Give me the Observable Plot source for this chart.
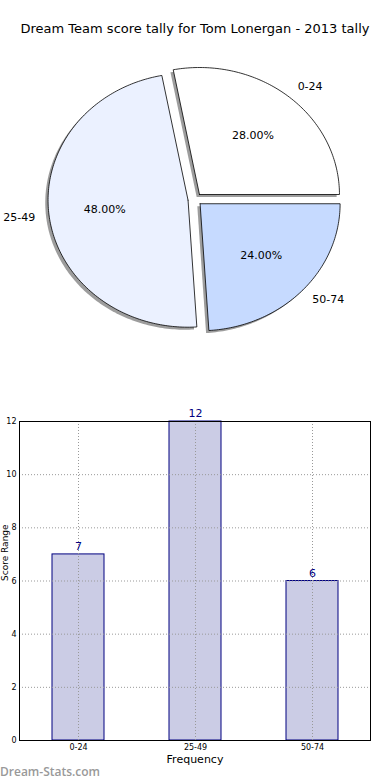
<!DOCTYPE html>
<html><head><meta charset="utf-8">
<script src="https://cdn.jsdelivr.net/npm/d3@7"></script>
<script src="https://cdn.jsdelivr.net/npm/@observablehq/plot@0.6"></script>
<style>
body{margin:0;background:#fff;font-family:"DejaVu Sans",sans-serif;}
#wrap{position:relative;width:390px;height:780px;overflow:hidden;background:#fff;}
#title{position:absolute;top:21px;left:0;width:390px;text-align:center;font-size:13px;line-height:16px;color:#000;}
#pie{position:absolute;top:50px;left:0;}
#bar{position:absolute;top:390px;left:0;}
#wm{position:absolute;top:763px;left:0;font-family:"Open Sans",sans-serif;font-weight:600;font-size:12px;color:#999;}
svg{overflow:visible;}
</style>
</head><body>
<div id="wrap">
  <div id="title">Dream Team score tally for Tom Lonergan - 2013 tally</div>
  <div id="pie"></div>
  <div id="bar"></div>
  <div id="wm">Dream-Stats.com</div>
</div>
<script>
const categories = ["0-24", "25-49", "50-74"];
const counts = [7, 12, 6];
const pieColors = ["#ffffff", "#ebf1ff", "#c6daff"];
const explode = [0.05, 0.05, 0.05];
const yTicks = [0, 2, 4, 6, 8, 10, 12];

// ---- pie layout (matplotlib style: start at 0°, counter-clockwise) ----
const total = d3.sum(counts);
let acc = 0;
const slices = categories.map((c, i) => {
  const a0 = acc / total * 2 * Math.PI;
  acc += counts[i];
  const a1 = acc / total * 2 * Math.PI;
  const mid = (a0 + a1) / 2;
  const ox = explode[i] * Math.cos(mid), oy = explode[i] * Math.sin(mid);
  const pts = [{x: ox, y: oy}];
  const n = Math.max(2, Math.ceil((a1 - a0) / (Math.PI / 180)));
  for (let k = 0; k <= n; k++) {
    const t = a0 + (a1 - a0) * k / n;
    pts.push({x: ox + Math.cos(t), y: oy + Math.sin(t)});
  }
  pts.push({x: ox, y: oy});
  return {
    cat: c, color: pieColors[i], pts,
    shadow: pts.map(p => ({x: p.x - 0.02, y: p.y - 0.02})),
    pct: (counts[i] / total * 100).toFixed(2) + "%",
    px: ox + 0.6 * Math.cos(mid), py: oy + 0.6 * Math.sin(mid),
    lx: ox + 1.1 * Math.cos(mid), ly: oy + 1.1 * Math.sin(mid)
  };
});

const rx = 140, ry = 127, cx = 194.5, cy = 148.9, PW = 390, PH = 340;
const pieMarks = [];
for (const s of slices) {
  pieMarks.push(Plot.line(s.shadow, {x: "x", y: "y", fill: "#4d4d4d", fillOpacity: 0.55, stroke: "none"}));
}
for (const s of slices) {
  pieMarks.push(Plot.line(s.pts, {x: "x", y: "y", fill: s.color, stroke: "#000", strokeWidth: 0.8}));
}
pieMarks.push(Plot.text(slices, {x: "px", y: "py", text: "pct", fontSize: 11, fill: "#000"}));
pieMarks.push(Plot.text(slices.filter(s => s.lx >= 0), {x: "lx", y: "ly", text: "cat", textAnchor: "start", fontSize: 11, fill: "#000"}));
pieMarks.push(Plot.text(slices.filter(s => s.lx < 0), {x: "lx", y: "ly", text: "cat", textAnchor: "end", fontSize: 11, fill: "#000"}));

const pie = Plot.plot({
  width: PW, height: PH,
  marginTop: 0, marginBottom: 0, marginLeft: 0, marginRight: 0,
  style: {fontFamily: "DejaVu Sans, sans-serif", background: "transparent"},
  x: {domain: [-cx / rx, (PW - cx) / rx], range: [0, PW], axis: null},
  y: {domain: [(cy - PH) / ry, cy / ry], range: [PH, 0], axis: null},
  marks: pieMarks
});
document.getElementById("pie").appendChild(pie);

// ---- bar chart ----
const barData = categories.map((c, i) => ({cat: c, count: counts[i]}));
const bar = Plot.plot({
  width: 390, height: 390,
  marginTop: 31, marginBottom: 40, marginLeft: 19, marginRight: 20,
  style: {fontFamily: "DejaVu Sans, sans-serif", fontSize: "8px", background: "transparent", color: "#000"},
  x: {domain: categories, paddingInner: 0.556, paddingOuter: 0.278, align: 0.5, label: null, tickSize: 0, tickPadding: 4},
  y: {domain: [0, 12], ticks: yTicks, label: null, tickSize: 0, tickPadding: 3},
  marks: [
    Plot.barY(barData, {x: "cat", y: "count", fill: "#cbcce5", stroke: "#000080", strokeWidth: 1, inset: 0}),
    Plot.gridY(yTicks.slice(1, -1), {stroke: "#999", strokeOpacity: 1, strokeDasharray: "1,2"}),
    Plot.gridX(categories, {stroke: "#999", strokeOpacity: 1, strokeDasharray: "1,2"}),
    Plot.frame({stroke: "#000", strokeWidth: 1}),
    Plot.text(barData, {x: "cat", y: "count", text: d => String(d.count), dy: -8, fill: "#000080", fontSize: 11}),
    Plot.text(["Frequency"], {text: d => d, frameAnchor: "bottom", dy: 22, fontSize: 11, fill: "#000"}),
    Plot.text(["Score Range"], {text: d => d, frameAnchor: "left", dx: -14, rotate: -90, fontSize: 9, fill: "#000"})
  ]
});
document.getElementById("bar").appendChild(bar);
</script>
</body></html>
